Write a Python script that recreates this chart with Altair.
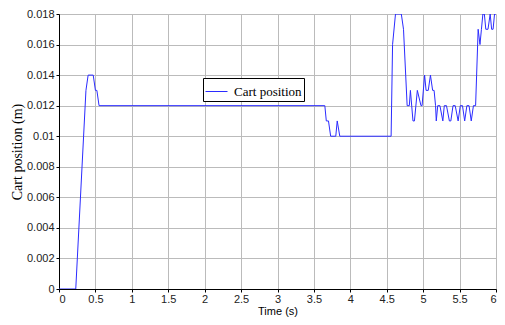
import altair as alt
import pandas as pd

time_s = [0, 0.23, 0.37, 0.40, 0.47, 0.50, 0.52, 0.55, 3.65, 3.67, 3.70, 3.73, 3.80, 3.82, 3.855,
          4.56, 4.58, 4.62, 4.70, 4.73, 4.78, 4.81, 4.825, 4.86, 4.88, 4.92, 4.97, 4.985,
          5.02, 5.04, 5.07, 5.10, 5.13, 5.15, 5.17, 5.18, 5.20, 5.23, 5.27, 5.29, 5.32,
          5.36, 5.38, 5.41, 5.44, 5.48, 5.51, 5.54, 5.57, 5.60, 5.63, 5.66, 5.69, 5.72,
          5.755, 5.78, 5.80, 5.82, 5.84, 5.86, 5.89, 5.92, 5.94, 5.96, 5.98, 6.0]
position_m = [0, 0, 0.013, 0.014, 0.014, 0.013, 0.013, 0.012, 0.012, 0.011, 0.011, 0.010, 0.010, 0.011, 0.010,
              0.010, 0.016, 0.018, 0.018, 0.017, 0.012, 0.012, 0.013, 0.011, 0.011, 0.013, 0.012, 0.012,
              0.014, 0.013, 0.013, 0.014, 0.013, 0.013, 0.012, 0.011, 0.012, 0.012, 0.011, 0.012, 0.012,
              0.011, 0.011, 0.012, 0.012, 0.011, 0.012, 0.012, 0.011, 0.012, 0.012, 0.011, 0.012, 0.012,
              0.017, 0.016, 0.017, 0.018, 0.018, 0.017, 0.017, 0.018, 0.017, 0.017, 0.018, 0.018]
series_name = "Cart position"
x_ticks = [0, 0.5, 1, 1.5, 2, 2.5, 3, 3.5, 4, 4.5, 5, 5.5, 6]
y_ticks = [0, 0.002, 0.004, 0.006, 0.008, 0.010, 0.012, 0.014, 0.016, 0.018]

df = pd.DataFrame({"t": time_s, "y": position_m, "s": [series_name] * len(time_s)})

chart = alt.Chart(df).mark_line(strokeWidth=1, clip=True).encode(
    x=alt.X("t:Q", scale=alt.Scale(domain=[0, 6], nice=False),
            axis=alt.Axis(values=x_ticks, format="~g", title="Time (s)",
                          titleFont="Liberation Sans", titleFontSize=11, titleFontWeight="normal",
                          titleColor="black", titlePadding=1,
                          labelFont="Liberation Sans", labelFontSize=11, labelColor="#222",
                          labelPadding=1, tickSize=3, tickColor="black", domainColor="black",
                          gridColor="#bbbbbb", grid=True)),
    y=alt.Y("y:Q", scale=alt.Scale(domain=[0, 0.018], nice=False),
            axis=alt.Axis(values=y_ticks, format="~g", title="Cart position (m)",
                          titleFont="Liberation Serif", titleFontSize=14, titleFontWeight="normal",
                          titleColor="black", titlePadding=2,
                          labelFont="Liberation Sans", labelFontSize=11, labelColor="#222",
                          labelPadding=2, tickSize=3, tickColor="black", domainColor="black",
                          gridColor="#bbbbbb", grid=True)),
    color=alt.Color("s:N", scale=alt.Scale(range=["#2b2bff"]),
                    legend=alt.Legend(title=None, orient="none", legendX=144, legendY=64,
                                      symbolType="stroke", symbolSize=484, symbolStrokeWidth=1,
                                      labelFont="Liberation Serif", labelFontSize=13, labelColor="black",
                                      strokeColor="black", fillColor="white", padding=2,
                                      labelOffset=6)),
).properties(
    width=437, height=275,
    autosize=alt.AutoSizeParams(type="none"),
    padding={"left": 51, "top": 6, "right": 1, "bottom": 28},
).configure_view(stroke="black", strokeWidth=1).configure(background="white")

chart.save("out.html", embed_options={"renderer": "svg", "actions": False})
